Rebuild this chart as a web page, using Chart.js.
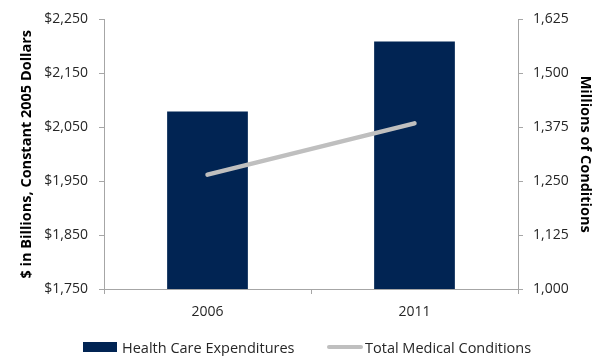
<!DOCTYPE html>
<html>
<head>
<meta charset="utf-8">
<script src="https://cdn.jsdelivr.net/npm/chart.js"></script>
<style>
  html, body { margin: 0; padding: 0; background: #fff; }
  #wrap { position: relative; width: 603px; height: 356px; }
  .item {
    position: absolute; top: 337px; height: 20px; display: flex; align-items: center;
    font-family: "Open Sans", sans-serif; font-size: 14.5px; color: #262626; white-space: nowrap;
  }
  .swatch-bar { width: 34px; height: 10px; background: #012453; margin-right: 5px; }
  .swatch-line { width: 36px; height: 4px; border-radius: 2px; background: #bfbfbf; margin-right: 2px; }
</style>
</head>
<body>
<div id="wrap">
  <canvas id="chart" width="603" height="356"></canvas>
  <div class="item" style="left:83px"><span class="swatch-bar"></span>Health Care Expenditures</div>
  <div class="item" style="left:327px"><span class="swatch-line"></span>Total Medical Conditions</div>
</div>
<script>
// values
const years = ['2006', '2011'];
const expenditures = [2079, 2209];   // $ billions, constant 2005 dollars
const conditions = [1265, 1384];     // millions of conditions

const leftMin = 1750, leftMax = 2250, leftStep = 100;
const rightMin = 1000, rightMax = 1625, rightStep = 125;

const tickFont = { family: '"Open Sans", sans-serif', size: 14 };
const titleFont = { family: '"Open Sans", sans-serif', size: 14.5, weight: 'bold' };
const axisGrey = '#a6a6a6';

const ctx = document.getElementById('chart').getContext('2d');
const chart = new Chart(ctx, {
    type: 'bar',
    data: {
        labels: years,
        datasets: [{
            type: 'line',
            label: 'Total Medical Conditions',
            data: conditions,
            yAxisID: 'y2',
            borderColor: '#bfbfbf',
            borderWidth: 4.5,
            borderCapStyle: 'round',
            pointRadius: 0,
            fill: false,
            order: 0
        }, {
            label: 'Health Care Expenditures',
            data: expenditures,
            yAxisID: 'y',
            backgroundColor: '#012453',
            categoryPercentage: 1,
            barPercentage: 0.39,
            order: 1
        }]
    },
    options: {
        responsive: false,
        animation: false,
        layout: { padding: { top: 18, left: 0, right: 0, bottom: 0 } },
        plugins: {
            legend: { display: false },
            tooltip: { enabled: false }
        },
        scales: {
            x: {
                offset: true,
                grid: { offset: true, drawOnChartArea: false, tickLength: 5, color: axisGrey },
                border: { color: axisGrey },
                ticks: { font: tickFont, color: '#262626', padding: 10 },
                afterFit: function (axis) { axis.height = 67; }
            },
            y: {
                position: 'left',
                min: leftMin, max: leftMax,
                grid: { drawOnChartArea: false, tickLength: 5, color: axisGrey },
                border: { color: axisGrey },
                ticks: {
                    stepSize: leftStep, font: tickFont, color: '#262626', padding: 11,
                    callback: function (v) { return '$' + v.toLocaleString('en-US'); }
                },
                title: {
                    display: true, text: '$ in Billions, Constant 2005 Dollars',
                    font: titleFont, color: '#000', padding: { top: 18, bottom: 0 }
                },
                afterFit: function (axis) { axis.width = 104; }
            },
            y2: {
                position: 'right',
                min: rightMin, max: rightMax,
                grid: { drawOnChartArea: false, tickLength: 5, color: axisGrey },
                border: { color: axisGrey },
                ticks: {
                    stepSize: rightStep, font: tickFont, color: '#262626', padding: 10,
                    callback: function (v) { return v.toLocaleString('en-US'); }
                },
                title: {
                    display: true, text: 'Millions of Conditions',
                    font: titleFont, color: '#000', padding: { top: 9, bottom: 0 }
                },
                afterFit: function (axis) { axis.width = 85; }
            }
        }
    }
});
</script>
</body>
</html>
